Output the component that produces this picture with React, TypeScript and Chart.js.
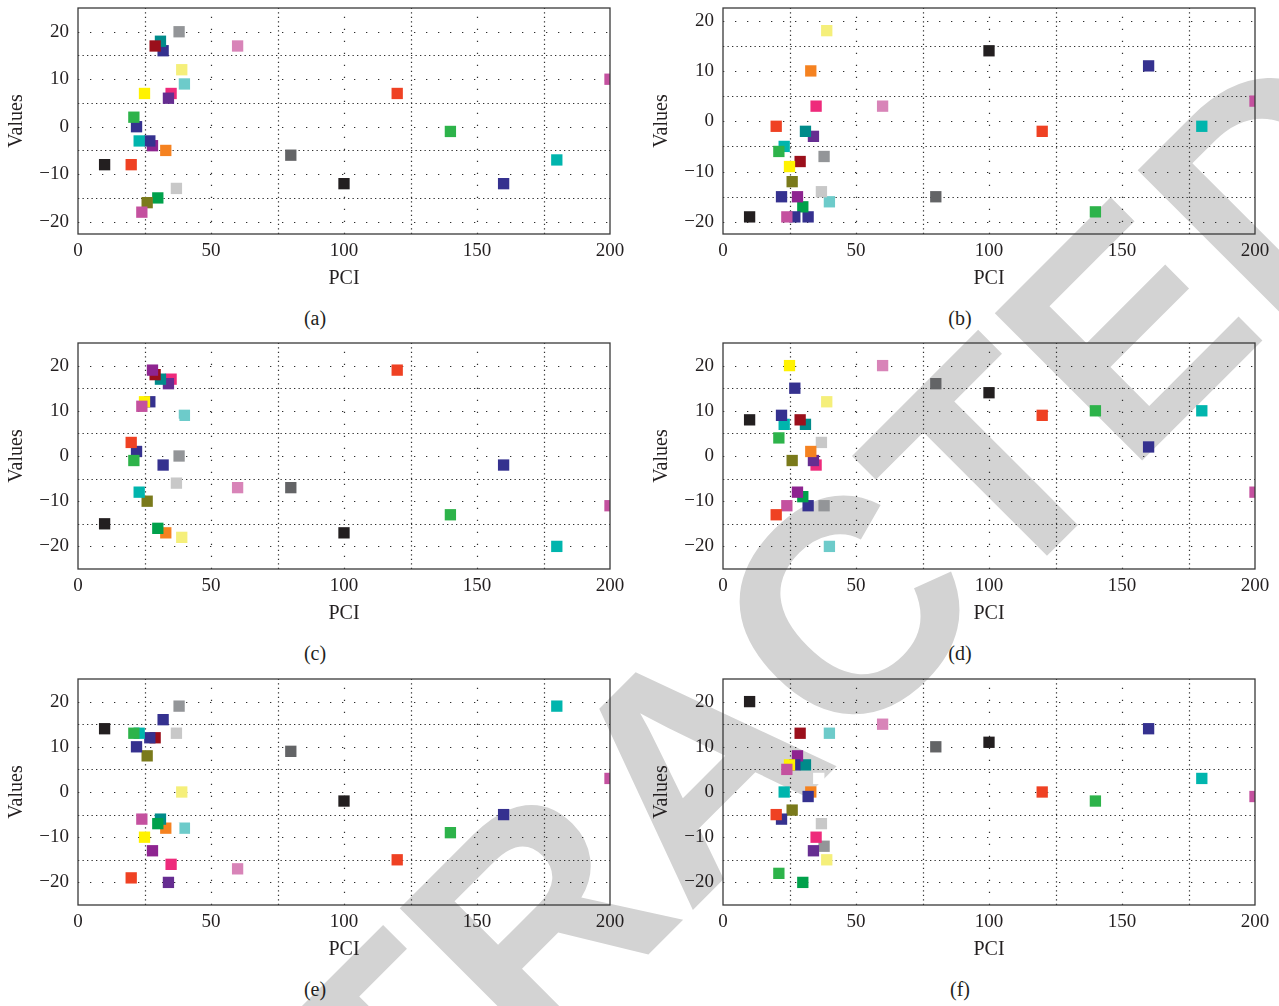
import React, { useEffect, useRef } from "react";
import { Chart, registerables } from "chart.js";

Chart.register(...registerables);

// ---- data ----
const pciValues = [10, 20, 21, 22, 23, 24, 25, 26, 27, 28, 29, 30, 31, 32, 33, 34, 35, 36, 37, 38, 39, 40, 60, 80, 100, 120, 140, 160, 180, 200];
const seriesColors = [
  "#231f20", "#ef4123", "#2db34a", "#35318f", "#00b5ad", "#c4519f", "#fff200", "#7a7a1b", "#35318f", "#8e2490",
  "#9b0f1b", "#00a14b", "#008b8a", "#35318f", "#f58220", "#662d91", "#ee2a7b", "#ffffff", "#c8c8c8", "#939598",
  "#f5ef7a", "#6dcbca", "#d884b8", "#636466", "#231f20", "#ef4123", "#2db34a", "#35318f", "#00b5ad", "#c4519f",
];
const valuesA = [-8, -8, 2, 0, -3, -18, 7, -16, -3, -4, 17, -15, 18, 16, -5, 6, 7, 2, -13, 20, 12, 9, 17, -6, -12, 7, -1, -12, -7, 10];
const valuesB = [-19, -1, -6, -15, -5, -19, -9, -12, -19, -15, -8, -17, -2, -19, 10, -3, 3, 7, -14, -7, 18, -16, 3, -15, 14, -2, -18, 11, -1, 4];
const valuesC = [-15, 3, -1, 1, -8, 11, 12, -10, 12, 19, 18, -16, 17, -2, -17, 16, 17, 7, -6, 0, -18, 9, -7, -7, -17, 19, -13, -2, -20, -11];
const valuesD = [8, -13, 4, 9, 7, -11, 20, -1, 15, -8, 8, -9, 7, -11, 1, -1, -2, -5, 3, -11, 12, -20, 20, 16, 14, 9, 10, 2, 10, -8];
const valuesE = [14, -19, 13, 10, 13, -6, -10, 8, 12, -13, 12, -7, -6, 16, -8, -20, -16, -8, 13, 19, 0, -8, -17, 9, -2, -15, -9, -5, 19, 3];
const valuesF = [20, -5, -18, -6, 0, 5, 6, -4, 6, 8, 13, -20, 6, -1, 0, -13, -10, 3, -7, -12, -15, 13, 15, 10, 11, 0, -2, 14, 3, -1];

const xTickValues = [0, 50, 100, 150, 200];
const yTickValues = [-20, -10, 0, 10, 20];
const xGridValues = [25, 50, 75, 100, 125, 150, 175];
const yGridValues = [-20, -15, -10, -5, 0, 5, 10, 15, 20];
const panelLabels = ["(a)", "(b)", "(c)", "(d)", "(e)", "(f)"];
const panelValues = [valuesA, valuesB, valuesC, valuesD, valuesE, valuesF];
const panelYMin = [-22.6, -22.4, -25, -25, -25, -25];
const panelYMax = [25, 22.5, 25, 25, 25, 25];
const xTitle = "PCI";
const yTitle = "Values";
const watermarkText = "RETRACTED";

// ---- layout ----
const CANVAS_W = 630;
const CANVAS_H = 300;
const colX = [0, 645];
const rowY = [0, 335, 671];
const SERIF = '"Liberation Serif", "Times New Roman", serif';
const INK = "#231f20";

const dottedGrid = {
  id: "dottedGrid",
  beforeDatasetsDraw(chart: any) {
    const { ctx, chartArea, scales } = chart;
    const { left, right, top, bottom } = chartArea;
    const xs = scales.x;
    const ys = scales.y;
    ctx.save();
    ctx.strokeStyle = "#2e2e2e";
    ctx.lineWidth = 1.2;
    for (const v of xGridValues) {
      const px = Math.round(xs.getPixelForValue(v)) + 0.5;
      ctx.setLineDash(xTickValues.includes(v) ? [1.3, 10.7] : [1.3, 3.2]);
      ctx.beginPath();
      ctx.moveTo(px, bottom);
      ctx.lineTo(px, top);
      ctx.stroke();
    }
    for (const v of yGridValues) {
      if (v < ys.min || v > ys.max) continue;
      const py = Math.round(ys.getPixelForValue(v)) + 0.5;
      ctx.setLineDash(yTickValues.includes(v) ? [1.3, 10.7] : [1.3, 3.2]);
      ctx.beginPath();
      ctx.moveTo(left, py);
      ctx.lineTo(right, py);
      ctx.stroke();
    }
    ctx.restore();
  },
  afterDatasetsDraw(chart: any) {
    const { ctx, chartArea } = chart;
    const { left, right, top, bottom } = chartArea;
    ctx.save();
    ctx.strokeStyle = "#3a3a3a";
    ctx.lineWidth = 1.3;
    ctx.setLineDash([]);
    ctx.strokeRect(left, top, right - left, bottom - top);
    ctx.restore();
  },
};

function Panel({ index }: { index: number }) {
  const ref = useRef<HTMLCanvasElement>(null);
  const values = panelValues[index];
  const left = colX[index % 2];
  const top = rowY[Math.floor(index / 2)];

  useEffect(() => {
    const datasets = pciValues.map((x, i) => ({
      label: String(x),
      data: [{ x, y: values[i] }],
      backgroundColor: seriesColors[i],
      borderColor: seriesColors[i],
      borderWidth: 0,
      pointStyle: "rect" as const,
      pointRadius: 8,
      pointHoverRadius: 8,
    }));
    const chart = new Chart(ref.current!, {
      type: "scatter",
      data: { datasets },
      options: {
        animation: false,
        responsive: false,
        devicePixelRatio: 1,
        events: [],
        layout: { padding: { left: 0, right: 20, top: 8, bottom: 9 } },
        plugins: { legend: { display: false }, tooltip: { enabled: false } },
        scales: {
          x: {
            type: "linear",
            min: 0,
            max: 200,
            afterBuildTicks: (s: any) => {
              s.ticks = xTickValues.map((v) => ({ value: v }));
            },
            afterFit: (s: any) => {
              s.height = 57;
              s.paddingLeft = 0;
              s.paddingRight = 0;
              s.paddingTop = 0;
              s.paddingBottom = 0;
            },
            grid: { display: false, drawTicks: false },
            border: { display: false },
            ticks: {
              padding: 6,
              color: INK,
              font: { family: SERIF, size: 19 },
              maxRotation: 0,
              callback: (v: any) => String(v),
            },
            title: {
              display: true,
              text: xTitle,
              color: INK,
              font: { family: SERIF, size: 20 },
              padding: { top: 0, bottom: 0 },
            },
          },
          y: {
            type: "linear",
            min: panelYMin[index],
            max: panelYMax[index],
            afterBuildTicks: (s: any) => {
              s.ticks = yTickValues.map((v) => ({ value: v }));
            },
            afterFit: (s: any) => {
              s.width = 78;
              s.paddingLeft = 0;
              s.paddingRight = 0;
              s.paddingTop = 0;
              s.paddingBottom = 0;
            },
            grid: { display: false, drawTicks: false },
            border: { display: false },
            ticks: {
              padding: 9,
              color: INK,
              font: { family: SERIF, size: 19 },
              callback: (v: any) => String(v).replace("-", "\u2212"),
            },
            title: {
              display: true,
              text: yTitle,
              color: INK,
              font: { family: SERIF, size: 20 },
              padding: { top: 5, bottom: 0 },
            },
          },
        },
      },
      plugins: [dottedGrid],
    } as any);
    return () => chart.destroy();
  }, [index]);

  return (
    <>
      <div style={{ position: "absolute", left, top, width: CANVAS_W, height: CANVAS_H, zIndex: 1 }}>
        <canvas ref={ref} width={CANVAS_W} height={CANVAS_H} style={{ display: "block" }} />
      </div>
      <div
        style={{
          position: "absolute",
          left,
          top: top + 318 - 12,
          width: CANVAS_W,
          textAlign: "center",
          fontFamily: SERIF,
          fontSize: 20,
          lineHeight: "24px",
          color: INK,
          zIndex: 1,
        }}
      >
        {panelLabels[index]}
      </div>
    </>
  );
}

export default function App() {
  return (
    <div
      style={{
        position: "absolute",
        left: 0,
        top: 0,
        width: 1279,
        height: 1006,
        overflow: "hidden",
        background: "#ffffff",
      }}
    >
      <div
        style={{
          position: "absolute",
          left: 691,
          top: 764,
          transform: "translate(-50%, -50%) rotate(-45deg)",
          fontFamily: '"Liberation Sans", Arial, sans-serif',
          fontWeight: 700,
          fontSize: 303,
          lineHeight: 1,
          color: "#d3d3d3",
          whiteSpace: "nowrap",
          zIndex: 0,
        }}
      >
        {watermarkText}
      </div>
      {[0, 1, 2, 3, 4, 5].map((i) => (
        <Panel key={i} index={i} />
      ))}
    </div>
  );
}
